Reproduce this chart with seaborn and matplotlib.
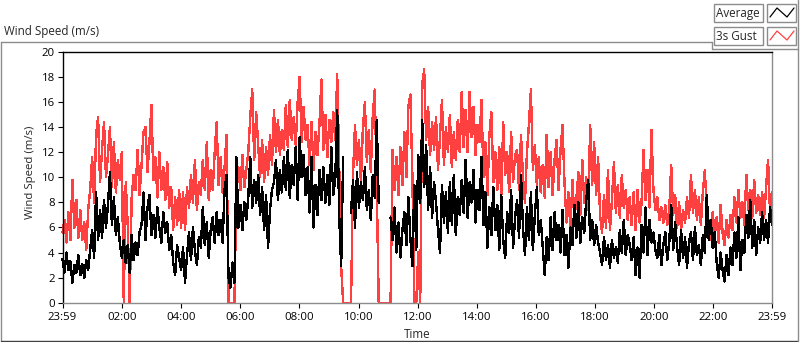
import numpy as np
import pandas as pd
import matplotlib
matplotlib.use("Agg")
import matplotlib.pyplot as plt
from matplotlib.lines import Line2D
from matplotlib.patches import Rectangle
import seaborn as sns

nan = np.nan

title_text = "Wind Speed (m/s)"
y_label = "Wind Speed (m/s)"
x_label = "Time"
series_names = ["Average", "3s Gust"]
x_tick_minutes = [0, 121, 241, 361, 481, 601, 721, 841, 961, 1081, 1201, 1321, 1440]
x_tick_labels = ["23:59", "02:00", "04:00", "06:00", "08:00", "10:00", "12:00",
                 "14:00", "16:00", "18:00", "20:00", "22:00", "23:59"]
y_ticks = [0, 2, 4, 6, 8, 10, 12, 14, 16, 18, 20]

avg = [
    3.5, 2.4, 4.0, 2.6, 3.3, 1.6, 3.0, 2.4, 3.8, 2.2, 3.1, 2.0, 3.4, 2.6,
    4.2, 5.8, 3.6, 8.8, 5.0, 7.4, 5.2, 8.2, 6.0, 7.8, 10.4, 6.2, 8.4, 5.4, 6.8, 4.8, 3.6,
    5.0, 3.2, 4.6, 2.4, 5.4, 3.4, 4.8, 3.8, 5.6,
    6.2, 8.8, 5.0, 7.6, 8.6, 5.4, 7.0, 5.2, 7.6, 6.0, 4.8, 7.2, 5.6, 6.4,
    4.2, 5.4, 3.2, 2.2, 4.6, 3.6, 2.6, 4.4, 1.6, 3.8,
    5.6, 3.4, 6.0, 4.2, 3.0, 5.2, 4.4, 7.6, 4.6, 6.4, 3.6, 5.8,
    6.8, 4.8, 7.2, 5.4, 6.6, 4.8, 9.0, 10.2, 2.0, 1.2, 3.2, 1.6, 11.6,
    6.0, 7.8, 5.8, 8.0, 6.6, 8.4, 11.6, 7.6, 9.8, 8.0, 10.2,
    7.0, 9.2, 5.8, 8.6, 4.4, 7.4, 9.0, 9.6, 11.4, 8.2, 10.6, 8.8, 11.6, 9.0, 12.2, 8.4, 11.0, 9.4,
    12.4, 8.2, 13.2, 10.0, 11.8, 8.6, 10.8, 7.2, 11.6, 6.0, 9.4, 7.0, 10.6, 8.2,
    10.8, 8.0, 10.2, 7.8, 12.4, 8.6, 9.8, 15.4, 7.0, 2.9, 11.6, nan, nan, nan,
    7.2, 9.8, 6.0, 10.4, 7.6, 9.6, 8.2, 10.8, 7.4, 9.0, 6.6, 10.2, 8.4, 14.6, 8.0,
    nan, nan, nan, nan, nan,
    6.8, 5.0, 7.6, 4.0, 6.4, 3.6, 5.8, 7.2, 4.6, 8.4, 5.2, 2.9,
    9.4, 4.2, 11.8, 8.0, 14.6, 9.2, 12.6, 7.4, 10.8, 6.8, 9.6,
    8.0, 5.8, 4.0, 9.4, 6.4, 8.8, 5.6, 9.6, 6.2, 10.2, 5.4, 8.4, 7.0, 9.8,
    7.2, 11.4, 6.8, 9.6, 8.0, 10.6, 6.4, 9.0, 7.4, 11.6, 6.2, 8.8, 4.4, 7.6, 5.4, 9.2, 5.8,
    7.8, 4.2, 8.6, 5.0, 3.6, 7.2, 5.6, 9.0, 4.4, 6.8,
    8.2, 5.2, 10.2, 6.0, 3.8, 7.6, 5.0, 8.8, 4.2, 7.0, 9.2, 5.4, 6.6,
    4.4, 2.2, 5.2, 3.4, 6.8, 4.2, 7.2, 5.0, 6.2, 4.0, 7.4, 3.8, 5.4, 2.8,
    6.0, 4.6, 7.8, 5.2, 8.0, 4.8, 6.8, 5.6, 8.2, 9.8, 5.0, 6.6, 4.6, 6.2, 4.8,
    4.0, 3.0, 5.2, 3.4, 4.6, 2.8, 5.0, 3.6, 4.4, 3.2, 5.8, 4.0, 6.6, 3.8, 5.4, 4.6,
    3.4, 5.2, 2.2, 4.4, 2.0, 6.2, 4.0, 7.6, 3.8, 6.6, 4.8, 5.6, 4.2,
    3.6, 5.4, 3.0, 4.6, 5.6, 3.4, 4.8, 7.8, 4.2, 6.4, 4.4, 3.0, 5.8, 3.6, 5.2, 2.8, 4.8,
    5.6, 3.4, 6.0, 3.8, 4.6, 3.0, 5.4, 4.0, 8.6, 5.0, 6.6, 4.4, 5.6,
    3.2, 2.0, 4.0, 2.6, 1.7, 3.8, 2.2, 4.4, 3.0, 5.6, 3.6, 6.8, 2.6, 5.0, 4.0, 7.0,
    5.2, 8.2, 4.4, 6.6, 3.8, 6.0, 4.8, 7.2, 5.0, 6.6, 4.8, 7.6, 6.2,
]

gust = [
    5.6, 6.6, 4.8, 7.2, 5.0, 9.8, 6.0, 8.2, 5.2, 7.4, 5.0, 6.4, 4.2, 7.4,
    9.0, 11.6, 8.0, 13.4, 14.8, 9.6, 12.2, 14.4, 10.0, 11.8, 14.0, 9.2, 12.8, 8.8, 11.4, 9.8,
    12.0, 0.0, 9.6, 6.2, 0.0, 8.4, 10.2,
    9.0, 12.2, 8.6, 11.0, 13.6, 14.0, 10.4, 12.8, 15.8, 9.8, 11.6, 8.4, 12.0, 9.0, 10.8, 8.2, 11.2,
    7.6, 9.2, 5.8, 8.4, 6.2, 9.0, 6.0, 8.8, 5.8, 9.2,
    7.6, 10.2, 8.0, 11.4, 7.4, 9.6, 8.6, 11.4, 9.0, 12.8, 8.2, 10.6, 9.0, 12.0, 14.4, 9.4, 11.6, 8.8, 10.8, 13.4,
    0.0, 0.0, 0.0, 0.0, 9.4, 10.8, 9.0, 11.8, 9.2, 10.6, 12.0, 14.8, 17.0, 11.4, 15.2, 12.6,
    10.0, 13.0, 9.6, 12.4, 10.2, 13.4, 11.0, 15.4, 12.0, 14.6, 11.8, 13.8, 12.2, 15.8, 12.4, 16.2, 13.0, 14.8, 12.6, 16.0, 18.0,
    12.8, 15.6, 13.0, 14.2, 11.0, 14.4, 10.6, 13.6, 11.8, 14.2, 17.8, 12.2, 15.0, 11.6, 14.6, 12.8, 15.2, 13.0,
    18.2, 11.0, 2.9, 0.0, 0.0, 0.0, 0.0, 0.0,
    10.2, 14.2, 11.0, 13.0, 9.6, 14.0, 16.0, 11.2, 13.8, 10.4, 15.0, 17.0, 9.4,
    0.0, 0.0, 0.0, 0.0, 0.0, 0.0, 0.0,
    12.2, 9.0, 11.6, 8.6, 12.4, 9.4, 13.6, 10.0, 15.6, 16.6, 10.4,
    0.0, 0.0, 4.0, 0.0, 17.4, 18.6, 13.0, 15.6, 11.8, 14.4, 12.2,
    14.8, 10.6, 13.2, 16.2, 11.0, 14.0, 12.0, 15.0, 10.8, 13.6, 11.4, 14.6, 12.0, 16.8,
    12.4, 15.4, 12.0, 16.8, 13.2, 15.6, 11.8, 14.2, 12.8, 16.2, 10.0, 12.8, 8.6, 13.4, 15.2, 9.6, 12.0,
    9.0, 12.4, 8.4, 14.4, 10.2, 12.0, 8.8, 13.6, 9.6, 11.8,
    12.2, 9.0, 13.4, 10.0, 8.0, 12.0, 14.2, 17.0, 10.6, 12.6, 9.4, 11.6, 8.8,
    11.0, 8.4, 13.4, 9.2, 12.0, 8.6, 11.4, 13.0, 9.0, 12.2, 14.2, 9.6, 6.4, 8.8, 5.8, 9.8, 6.8, 8.2,
    10.4, 7.0, 11.4, 8.0, 10.0, 7.4, 14.2, 9.4, 12.8, 8.6, 11.6, 7.0, 5.6, 8.6, 6.0, 10.6, 5.8, 8.2, 11.2,
    7.2, 9.4, 6.8, 10.2, 7.6, 9.0, 6.6, 8.4, 6.2, 8.8, 5.8, 9.0, 6.4, 8.0, 12.2, 8.2, 10.6, 7.6, 13.8, 9.0, 7.4, 8.4, 6.6,
    7.6, 6.4, 7.8, 6.2, 7.4, 11.0, 7.0, 8.6, 6.0, 8.0, 5.8, 7.4, 6.4, 8.4, 6.8, 10.2, 7.2, 9.0, 6.6, 8.4, 6.2, 8.8, 10.6, 7.4,
    6.4, 5.0, 7.2, 5.4, 6.8, 4.8, 7.8, 5.6, 4.6, 6.6, 5.2, 7.0, 5.8, 8.4, 6.4, 9.0, 6.8, 8.0, 6.2, 10.2,
    7.4, 9.0, 6.8, 9.8, 7.2, 8.6, 7.0, 8.8, 6.8, 9.2, 11.4, 7.2, 8.8,
]

W, H = 800, 342
BLACK = "#000000"
RED = "#FF4040"
GRAY = "#8C8C8C"


def frame(vals, name):
    v = np.asarray(vals, dtype=float)
    t = np.linspace(0, 1440, len(v))
    seg = np.cumsum(np.isnan(v))
    df = pd.DataFrame({"t": t, "v": v, "seg": seg, "series": name})
    return df.dropna()


df_avg = frame(avg, series_names[0])
df_gust = frame(gust, series_names[1])

sns.set_style("white")
plt.rcParams["font.family"] = ["Open Sans", "DejaVu Sans"]

fig = plt.figure(figsize=(W / 100, H / 100), dpi=100)
fig.patch.set_facecolor("white")


def fx(x):
    return x / W


def fy(y):
    return 1 - y / H


ax_l, ax_r, ax_t, ax_b = 62.5, 772, 52, 302.7
ax = fig.add_axes([fx(ax_l), fy(ax_b), (ax_r - ax_l) / W, (ax_b - ax_t) / H])
ax.set_facecolor("white")

sns.lineplot(data=df_gust, x="t", y="v", units="seg", estimator=None, sort=False,
             color=RED, linewidth=1.0, ax=ax, legend=False)
sns.lineplot(data=df_avg, x="t", y="v", units="seg", estimator=None, sort=False,
             color=BLACK, linewidth=1.0, ax=ax, legend=False)
for ln in ax.lines:
    ln.set_clip_on(False)
    ln.set_antialiased(False)

ax.set_xlim(0, 1440)
ax.set_ylim(0, 20)
ax.set_xlabel("")
ax.set_ylabel("")
ax.set_yticks(y_ticks)
ax.set_yticklabels([str(v) for v in y_ticks])
ax.set_xticks(x_tick_minutes)
ax.set_xticklabels(x_tick_labels)
minor = []
for a, b in zip(x_tick_minutes[:-1], x_tick_minutes[1:]):
    step = (b - a) / 9.0
    minor += [a + k * step for k in range(1, 9)]
ax.set_xticks(minor, minor=True)

ax.tick_params(axis="both", which="major", direction="out", length=3.6, width=0.8,
               color="#000000", labelsize=8.2, pad=2.0, labelcolor="#000000")
ax.tick_params(axis="x", which="minor", direction="out", length=2.2, width=0.8, color="#000000")
ax.tick_params(axis="x", which="major", pad=3.0)
ax.tick_params(left=True, bottom=True)

for s in ["top", "left"]:
    ax.spines[s].set_color("#000000")
    ax.spines[s].set_linewidth(1.0)
for s in ["bottom", "right"]:
    ax.spines[s].set_color(GRAY)
    ax.spines[s].set_linewidth(1.0)

# titles / labels
fig.text(fx(4), fy(32), title_text, fontsize=8.4, ha="left", va="center")
fig.text(fx(31), fy(172), y_label, fontsize=8.2, ha="center", va="center", rotation=90)
fig.text(fx(417), fy(334), x_label, fontsize=8.4, ha="center", va="center")

# outer frame
def fline(x0, y0, x1, y1, color=GRAY, lw=1.0):
    fig.add_artist(Line2D([fx(x0), fx(x1)], [fy(y0), fy(y1)], color=color, linewidth=lw,
                          transform=fig.transFigure))

fline(0.5, 42, 712, 42)
fline(0.5, 42, 0.5, 340.5)
fline(0.5, 340.5, 797.5, 340.5, color="#404040")
fline(712, 42, 712, 49)
fline(712, 49, 797.5, 49)
fline(797.5, 0, 797.5, 340.5)

# legend panel
rows = [(4, series_names[0], BLACK), (27, series_names[1], RED)]
for y0, name, col in rows:
    fig.add_artist(Rectangle((fx(714), fy(y0 + 17.5)), 49 / W, 17.5 / H, transform=fig.transFigure,
                             facecolor="white", edgecolor=GRAY, linewidth=1.0))
    fig.text(fx(716.5), fy(y0 + 9), name, fontsize=8.4, ha="left", va="center")
    fig.add_artist(Rectangle((fx(767), fy(y0 + 17.5)), 29 / W, 17.5 / H, transform=fig.transFigure,
                             facecolor="white", edgecolor=GRAY, linewidth=1.0))
    xs = [770, 777, 787, 794]
    ys = [y0 + 13, y0 + 4, y0 + 13, y0 + 4]
    fig.add_artist(Line2D([fx(v) for v in xs], [fy(v) for v in ys], color=col, linewidth=0.9,
                          transform=fig.transFigure))

fig.savefig("out.png", dpi=100, facecolor="white")
